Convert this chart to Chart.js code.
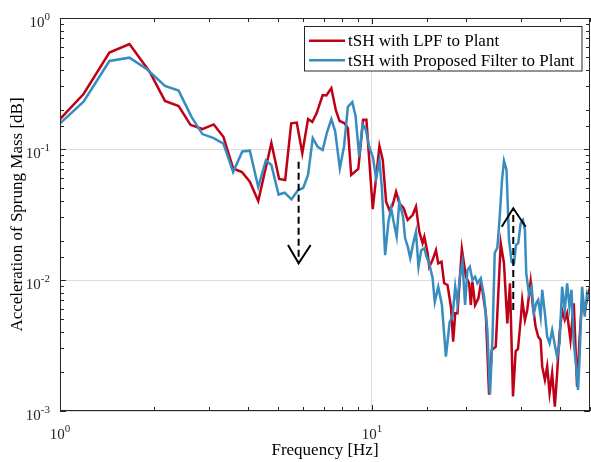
<!DOCTYPE html>
<html><head><meta charset="utf-8">
<script src="https://cdn.jsdelivr.net/npm/chart.js@4.4.1/dist/chart.umd.min.js"></script>
<style>html,body{margin:0;padding:0;background:#fff;}#wrap{width:591px;height:462px;}</style>
</head><body><div id="wrap"><canvas id="c" width="591" height="462"></canvas></div>
<script>
// ---- data ----
const seriesNames = ['tSH with LPF to Plant', 'tSH with Proposed Filter to Plant'];
const freqLPF = [1.0,1.19,1.44,1.67,1.94,2.17,2.40,2.62,2.86,3.11,3.34,3.59,3.83,4.06,4.32,4.76,5.04,5.27,5.51,5.74,5.98,6.24,6.44,6.65,6.95,7.14,7.41,7.66,7.87,8.17,8.37,8.58,9.04,9.37,9.60,10.06,10.57,10.83,11.10,11.37,11.65,11.95,12.24,12.64,13.01,13.50,13.84,14.18,14.53,14.72,15.08,15.27,15.64,16.04,16.31,16.71,17.04,17.47,17.91,18.21,18.49,18.80,19.42,20.00,20.49,20.75,20.99,21.41,21.94,22.33,22.59,23.17,23.74,24.21,24.94,25.87,26.50,27.16,27.70,28.32,28.89,29.38,29.97,30.32,30.93,31.46,32.26,32.81,33.47,34.12,34.73,35.14,35.84,36.45,37.10,37.81,38.57,39.23,39.93,40.70,41.51,42.23,43.29,44.36,45.45,46.27,47.16,48.35,50.0];
const accLPF = [0.169,0.263,0.545,0.633,0.387,0.233,0.213,0.153,0.142,0.154,0.124,0.0710,0.0667,0.0563,0.0401,0.111,0.0590,0.0580,0.157,0.159,0.0927,0.169,0.161,0.188,0.258,0.256,0.291,0.198,0.164,0.157,0.144,0.0633,0.0704,0.167,0.167,0.0348,0.105,0.0824,0.0396,0.0342,0.0374,0.0472,0.0385,0.0353,0.0287,0.0313,0.0363,0.0234,0.0191,0.0214,0.0160,0.0126,0.0142,0.0169,0.0134,0.0138,0.00944,0.00916,0.00625,0.00338,0.00557,0.00557,0.0172,0.0106,0.00944,0.00644,0.0097,0.00644,0.00725,0.00944,0.00839,0.00557,0.00133,0.00292,0.0031,0.0191,0.0134,0.00467,0.00944,0.00129,0.00287,0.00297,0.00495,0.00704,0.00495,0.0059,0.0097,0.00625,0.0044,0.00369,0.00348,0.00218,0.00173,0.00218,0.00137,0.00194,0.00108,0.00194,0.00392,0.0059,0.00495,0.00557,0.00348,0.00664,0.00153,0.00348,0.00704,0.00625,0.00889];
const freqProp = [1.0,1.19,1.44,1.67,1.90,2.17,2.40,2.64,2.86,3.11,3.34,3.59,3.84,4.06,4.32,4.57,4.76,5.02,5.25,5.52,5.80,6.02,6.24,6.46,6.70,6.95,7.17,7.41,7.62,7.89,8.14,8.37,8.65,8.86,9.10,9.33,9.55,9.82,10.07,10.31,10.57,10.76,11.02,11.29,11.52,11.74,12.00,12.24,12.58,12.77,13.03,13.27,13.57,13.84,14.10,14.39,14.72,14.93,15.27,15.64,15.90,16.31,16.76,17.26,17.75,18.12,18.49,18.80,19.13,19.50,19.89,20.23,20.59,20.99,21.41,21.78,22.33,22.88,23.44,23.90,24.35,24.75,25.23,25.68,26.12,26.50,27.00,27.50,28.05,28.53,28.95,29.44,29.97,30.48,30.93,31.23,31.86,32.49,33.05,33.61,34.12,34.73,35.14,35.84,36.45,37.10,37.81,38.57,39.23,39.93,40.70,41.51,42.23,42.97,43.61,44.36,45.11,45.78,46.27,47.16,48.10,48.93,50.0];
const accProp = [0.157,0.230,0.470,0.498,0.406,0.303,0.279,0.176,0.130,0.121,0.110,0.0667,0.0957,0.0971,0.0513,0.0817,0.0755,0.0449,0.0464,0.0413,0.0486,0.0504,0.0633,0.121,0.104,0.0983,0.133,0.169,0.137,0.0712,0.105,0.210,0.228,0.179,0.0877,0.155,0.142,0.102,0.0869,0.0597,0.0817,0.0504,0.0155,0.0277,0.0353,0.0277,0.0214,0.0396,0.0304,0.0209,0.0179,0.0147,0.0192,0.0233,0.0126,0.0169,0.0175,0.0153,0.0133,0.0104,0.00679,0.00889,0.00644,0.0026,0.00478,0.00525,0.00889,0.00664,0.0106,0.0137,0.00644,0.0119,0.0126,0.0100,0.0106,0.00944,0.0103,0.00746,0.00415,0.00133,0.00369,0.0161,0.0176,0.0304,0.058,0.081,0.0691,0.0202,0.0137,0.0134,0.0185,0.0191,0.0271,0.0287,0.0241,0.0113,0.00782,0.00889,0.00557,0.00664,0.00704,0.00525,0.0084,0.00557,0.00369,0.00329,0.00415,0.00319,0.0026,0.00329,0.00889,0.0059,0.00944,0.00625,0.0084,0.00329,0.00225,0.00145,0.00245,0.00889,0.00525,0.00791,0.00704];
// annotation arrows (frequency, acceleration)
const arrowDownShaftF = [5.82, 5.82];
const arrowDownShaftA = [0.080, 0.0134];
const arrowDownHeadF = [5.38, 5.82, 6.36];
const arrowDownHeadA = [0.0185, 0.0134, 0.0185];
const arrowUpShaftF = [28.38, 28.38];
const arrowUpShaftA = [0.0059, 0.0353];
const arrowUpHeadF = [26.06, 28.38, 31.09];
const arrowUpHeadA = [0.0255, 0.0353, 0.0255];
const xDecades = [1, 10];
const yDecades = [1, 0.1, 0.01, 0.001];
const yExponents = ['0', '-1', '-2', '-3'];
const xExponents = ['0', '1'];

const RED = 'rgb(192,0,22)';
const BLUE = 'rgb(55,140,192)';
const AX = '#262626';
const SERIF = '"Liberation Serif", "Times New Roman", serif';

const pts = (fs, as) => fs.map((f, i) => ({x: f, y: as[i]}));
const isDecade = v => v > 0 && Math.abs(Math.log10(v) - Math.round(Math.log10(v))) < 1e-6;

const decor = {
  id: 'decor',
  afterDraw(chart) {
    const {ctx, chartArea: a, scales: {x, y}} = chart;
    ctx.save();
    ctx.strokeStyle = AX; ctx.lineWidth = 1;
    // ticks inward on all sides
    ctx.beginPath();
    x.ticks.forEach(t => {
      const p = Math.round(x.getPixelForValue(t.value)) + 0.5;
      const L = isDecade(t.value) ? 6 : 4;
      ctx.moveTo(p, a.bottom); ctx.lineTo(p, a.bottom - L);
      ctx.moveTo(p, a.top); ctx.lineTo(p, a.top + L);
    });
    y.ticks.forEach(t => {
      const p = Math.round(y.getPixelForValue(t.value)) + 0.5;
      const L = isDecade(t.value) ? 6 : 4;
      ctx.moveTo(a.left, p); ctx.lineTo(a.left + L, p);
      ctx.moveTo(a.right, p); ctx.lineTo(a.right - L, p);
    });
    ctx.stroke();
    // box
    ctx.strokeRect(a.left + 0.5, a.top + 0.5, a.right - a.left - 1, a.bottom - a.top - 1);
    // tick labels with superscripts
    ctx.fillStyle = AX;
    ctx.textBaseline = 'alphabetic';
    const bigF = '15px ' + SERIF, smallF = '11px ' + SERIF;
    xDecades.forEach((v, i) => {
      const p = x.getPixelForValue(v);
      ctx.font = bigF; const wb = ctx.measureText('10').width;
      ctx.font = smallF; const ws = ctx.measureText(xExponents[i]).width;
      const x0 = p - (wb + ws) / 2;
      ctx.font = bigF; ctx.textAlign = 'left'; ctx.fillText('10', x0, 439);
      ctx.font = smallF; ctx.fillText(xExponents[i], x0 + wb, 432);
    });
    yDecades.forEach((v, i) => {
      const p = y.getPixelForValue(v);
      ctx.font = smallF; const ws = ctx.measureText(yExponents[i]).width;
      ctx.textAlign = 'right';
      ctx.fillText(yExponents[i], 50, p + 2);
      ctx.font = bigF; ctx.fillText('10', 50 - ws, p + 9);
    });
    // legend
    const lx = 304, ly = 26, lw = 277.5, lh = 44.5;
    ctx.fillStyle = '#fff';
    ctx.fillRect(lx, ly, lw, lh);
    ctx.strokeStyle = AX; ctx.lineWidth = 1;
    ctx.strokeRect(lx + 0.5, ly + 0.5, lw, lh);
    const rows = [40.7, 60.3];
    const cols = [RED, BLUE];
    ctx.font = '17px ' + SERIF; ctx.textAlign = 'left'; ctx.textBaseline = 'middle';
    rows.forEach((ry, i) => {
      ctx.strokeStyle = cols[i]; ctx.lineWidth = 2.5;
      ctx.beginPath(); ctx.moveTo(309, ry); ctx.lineTo(345, ry); ctx.stroke();
      ctx.fillStyle = '#000';
      ctx.fillText(seriesNames[i], 348, ry + 1);
    });
    ctx.restore();
  }
};

new Chart(document.getElementById('c'), {
  type: 'line',
  data: {
    datasets: [
      {label: seriesNames[0], data: pts(freqLPF, accLPF), borderColor: RED, borderWidth: 2.5, pointRadius: 0, order: 2},
      {label: seriesNames[1], data: pts(freqProp, accProp), borderColor: BLUE, borderWidth: 2.5, pointRadius: 0, order: 1},
      {label: 'a1', data: pts(arrowDownShaftF, arrowDownShaftA), borderColor: '#000', borderWidth: 2, borderDash: [7, 4], pointRadius: 0, order: 0},
      {label: 'a2', data: pts(arrowDownHeadF, arrowDownHeadA), borderColor: '#000', borderWidth: 2, pointRadius: 0, order: 0},
      {label: 'a3', data: pts(arrowUpShaftF, arrowUpShaftA), borderColor: '#000', borderWidth: 2, borderDash: [7, 4], pointRadius: 0, order: 0},
      {label: 'a4', data: pts(arrowUpHeadF, arrowUpHeadA), borderColor: '#000', borderWidth: 2, pointRadius: 0, order: 0}
    ]
  },
  options: {
    responsive: false, animation: false, devicePixelRatio: 1,
    layout: {padding: {top: 18, right: 1, left: 0, bottom: 0}},
    plugins: {legend: {display: false}, tooltip: {enabled: false}},
    elements: {line: {tension: 0, fill: false}},
    scales: {
      x: {
        type: 'logarithmic', min: 1, max: 50, position: 'bottom',
        ticks: {display: false},
        grid: {drawTicks: false, lineWidth: 1, color: c => (c.tick && isDecade(c.tick.value)) ? '#dcdcdc' : 'rgba(0,0,0,0)'},
        border: {display: false},
        title: {display: true, text: 'Frequency [Hz]', color: '#000', font: {family: SERIF, size: 17}, padding: {top: 0, bottom: 1}},
        afterFit: s => { s.height = 51; }
      },
      y: {
        type: 'logarithmic', min: 0.001, max: 1,
        ticks: {display: false},
        grid: {drawTicks: false, lineWidth: 1, color: c => (c.tick && isDecade(c.tick.value)) ? '#dcdcdc' : 'rgba(0,0,0,0)'},
        border: {display: false},
        title: {display: true, text: 'Acceleration of Sprung Mass [dB]', color: '#000', font: {family: SERIF, size: 17}, padding: {top: 7, bottom: 0}},
        afterFit: s => { s.width = 60; }
      }
    }
  },
  plugins: [decor]
});
</script>
</body></html>
